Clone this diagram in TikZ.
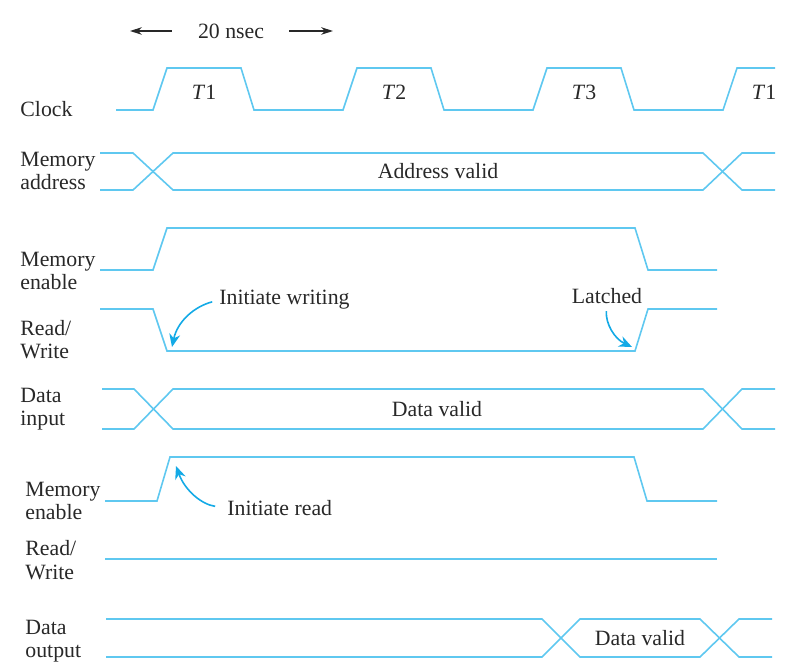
\documentclass[tikz,border=0pt]{standalone}
\usepackage{fontspec}
\setmainfont{Liberation Serif}
\usepackage{xcolor}
\usetikzlibrary{arrows.meta,positioning}
\definecolor{sigblue}{RGB}{95, 200, 240}
\definecolor{noteblue}{RGB}{20, 170, 230}
\definecolor{inkgray}{RGB}{40, 40, 40}
\tikzset{
  sig/.style={sigblue, line width=0.8pt, line join=miter},
  lbl/.style={inner sep=0pt, anchor=west, align=left, text=inkgray,
    font=\fontsize{10.9}{11.6}\selectfont},
  txt/.style={inner sep=0pt, text=inkgray, font=\fontsize{10.9}{11.6}\selectfont},
  note/.style={noteblue, line width=0.8pt, -{Stealth[length=6.5pt,width=5.5pt]}},
  dimarrow/.style={inkgray, line width=0.6pt, -{Stealth[length=6pt,width=3.8pt]}}
}

\begin{document}
\begin{tikzpicture}[x=0.5pt, y=-0.5pt]
  \useasboundingbox (0, 0) rectangle (812, 667);
  % period marker
  \node[txt] (nsec) at (231, 31) {20 nsec};
  \coordinate (nsecl) at (130, 31);
  \coordinate (nsecr) at (333, 31);
  \draw[dimarrow, shorten <=13pt] (nsec) -- (nsecl);
  \draw[dimarrow, shorten <=12.5pt] (nsec) -- (nsecr);
  % signal names
  \node[lbl] (clk) at (20, 109) {Clock};
  \node[lbl] (maddr) at (20, 171) {Memory\\address};
  \node[lbl] (menw) at (20, 271) {Memory\\enable};
  \node[lbl] (rww) at (20, 340) {Read/\\Write};
  \node[lbl] (din) at (20, 409) {Data\\input};
  \node[lbl] (menr) at (25, 501) {Memory\\enable};
  \node[lbl] (rwr) at (25, 560) {Read/\\Write};
  \node[lbl] (dout) at (25, 641) {Data\\output};
  % clock
  \draw[sig] (116, 110)
    \foreach \t in {153, 343, 533} {
      -- (\t, 110) -- (\t+14, 68) -- (\t+88, 68) -- (\t+101, 110)
    } -- (723, 110) -- (737, 68) -- (775, 68);
  \node[txt] (t1) at (204, 92) {\textit{T}1};
  \node[txt] (t2) at (394, 92) {\textit{T}2};
  \node[txt] (t3) at (584, 92) {\textit{T}3};
  \node[txt] (t4) at (764, 92) {\textit{T}1};
  % write cycle
  \draw[sig] (100, 153) -- (133, 153) -- (173, 190) -- (703, 190) -- (742, 153) -- (775, 153);
  \draw[sig] (100, 190) -- (133, 190) -- (173, 153) -- (703, 153) -- (742, 190) -- (775, 190);
  \node[txt] (addrv) at (438, 171) {Address valid};
  \draw[sig] (100, 270) -- (153, 270) -- (167, 228) -- (635, 228) -- (648, 270) -- (717, 270);
  \draw[sig] (100, 309) -- (153, 309) -- (167, 351) -- (635, 351) -- (648, 309) -- (717, 309);
  \draw[sig] (102, 389) -- (134, 389) -- (173, 429) -- (703, 429) -- (742, 389) -- (775, 389);
  \draw[sig] (102, 429) -- (134, 429) -- (173, 389) -- (703, 389) -- (742, 429) -- (775, 429);
  \node[txt] (dinv) at (437, 409) {Data valid};
  \node[txt, anchor=west] (initw) at (219, 300) {Initiate writing};
  \coordinate (initwend) at (172, 347);
  \draw[note, shorten <=3.5pt] (initw.west) to[out=195, in=78] (initwend);
  \node[txt] (latch) at (607, 296) {Latched};
  \coordinate (latchend) at (632, 347);
  \draw[note, shorten <=3.5pt] (latch.south) to[out=-95, in=155] (latchend);
  % read cycle
  \draw[sig] (105, 501) -- (157, 501) -- (170, 457) -- (634, 457) -- (647, 501) -- (717, 501);
  \draw[sig] (105, 559) -- (717, 559);
  \draw[sig] (106, 619) -- (542, 619) -- (580, 657) -- (700, 657) -- (739, 619) -- (772, 619);
  \draw[sig] (106, 657) -- (542, 657) -- (580, 619) -- (700, 619) -- (739, 657) -- (772, 657);
  \node[txt] (doutv) at (640, 638) {Data valid};
  \node[txt, anchor=west] (initr) at (227, 508) {Initiate read};
  \coordinate (initrend) at (176, 466);
  \draw[note, shorten <=6pt] (initr.west) to[out=172, in=-70] (initrend);
\end{tikzpicture}
\end{document}
